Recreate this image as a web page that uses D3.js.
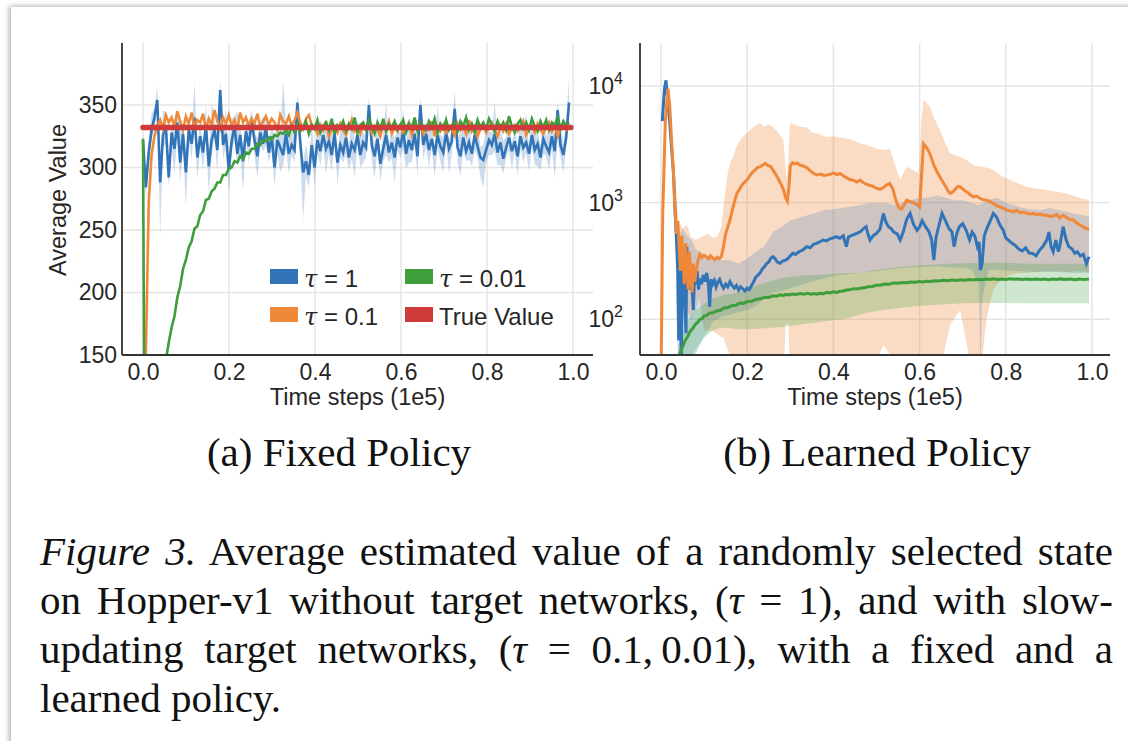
<!DOCTYPE html>
<html>
<head>
<meta charset="utf-8">
<script src="https://cdn.jsdelivr.net/npm/d3@7"></script>
<style>
  html, body { margin: 0; padding: 0; background: #fff; width: 1128px; height: 741px; overflow: hidden; }
  #card { position: absolute; left: 11px; top: 7px; width: 1150px; height: 780px; background: #fff;
          box-shadow: -2px -1px 5px rgba(0,0,0,0.30); }
  svg { position: absolute; left: 0; top: 0; }
  .cap { position: absolute; left: 40px; width: 1073px; font-family: "Liberation Serif", "Times New Roman", serif;
         font-size: 41px; line-height: 49px; color: #111; white-space: nowrap; }
  .just { text-align: justify; text-align-last: justify; }
</style>
</head>
<body>
<div id="card"></div>
<script>
// ---------------- Panel (a): fixed policy ----------------
const xTicks = [0, 0.2, 0.4, 0.6, 0.8, 1.0];
const yTicksA = [150, 200, 250, 300, 350];
const stepA = 0.00665;               // spacing of logged time steps (1e5 units)
const trueValueA = 332;
const trueSpanA = [0, 0.995];

const blueA = [
322,284,312,330,340,354,288,326,333,292,
328,315,336,304,327,296,330,319,340,308,
325,312,334,301,322,330,314,362,318,327,
298,321,333,311,326,305,329,317,337,322,
309,328,319,332,312,325,300,322,316,310,
327,311,318,314,352,320,296,305,294,318,
300,322,313,326,315,321,310,327,304,318,
312,324,308,319,314,326,310,320,316,350,
318,309,323,303,315,326,312,320,308,324,
316,329,311,322,314,327,309,350,318,327,
314,323,310,326,317,312,328,315,321,347,
316,309,324,313,320,311,326,317,308,306,
314,322,318,327,312,320,307,316,324,313,
321,309,325,316,320,311,326,314,319,308,
323,317,312,325,313,346,318,310,324,352];
const blueUpA = [
6,10,8,14,6,12,8,20,10,8, 6,14,9,25,6,18,10,8,28,7,
12,6,16,9,30,8,12,8,10,22, 6,18,8,34,7,12,6,20,9,6,
14,8,22,6,10,7,26,9,12,60, 8,22,10,16,6,12,8,14,10,18,
9,12,24,8,16,6,20,10,8,14, 22,7,10,28,6,12,18,8,10,6,
14,9,20,7,12,26,8,10,16,6, 12,18,8,14,22,9,10,6,16,8,
20,10,7,24,9,12,16,8,10,14, 8,20,9,12,18,6,10,22,8,12,
16,7,10,26,8,12,14,9,20,6, 12,8,18,10,24,7,12,16,9,10,
14,8,20,10,12,6,18,9,14,20];
const blueDownA = [
6,8,12,6,10,8,42,10,14,8, 12,20,8,16,10,28,8,12,6,18,
10,14,8,22,12,6,18,8,12,10, 20,8,12,10,16,24,8,14,6,12,
18,10,6,14,8,12,16,10,20,8, 12,16,8,10,6,14,38,12,10,8,
16,10,12,8,20,10,14,6,18,10, 8,14,10,12,22,8,10,16,8,6,
12,18,8,14,10,16,8,12,20,10, 8,14,12,18,10,8,16,6,12,10,
14,8,18,10,12,16,8,20,10,6, 12,16,10,8,14,10,12,8,16,22,
10,12,8,14,10,18,12,8,10,14, 8,16,10,12,8,14,10,12,18,10,
12,8,14,10,22,24,10,14,8,6];
const orangeA = [
60,150,272,310,325,334,338,331,342,336,
340,333,345,337,330,341,335,344,332,338,
336,343,330,339,334,346,337,331,340,335,
342,334,338,331,344,336,340,333,339,335,
343,332,337,341,334,339,336,330,342,337,
335,341,333,338,344,336,331,339,342,334,
332,327,334,330,337,325,331,333,328,335,
330,326,333,338,329,332,327,334,330,336,
328,333,331,325,335,330,337,327,332,329,
334,328,331,336,326,333,330,335,327,332,
330,337,325,332,329,334,328,333,331,326,
335,330,332,327,338,329,333,325,331,334,
328,332,336,330,325,333,329,335,327,331,
334,329,332,337,326,331,333,328,335,330,
327,332,336,329,333,325,331,334,330,332];
const greenA = [
323,-150,-60,10,55,85,108,128,146,160,
172,181,196,205,219,226,236,241,251,253,
262,265,274,275,281,283,288,288,294,294,
299,300,305,304,309,307,312,311,315,315,
319,318,322,321,324,322,326,325,328,327,
330,326,333,328,335,329,332,337,327,334,
331,338,328,333,336,330,339,327,334,332,
337,329,335,331,340,328,334,336,330,338,
333,327,336,331,339,329,335,332,337,330,
334,338,328,335,331,340,329,336,333,330,
337,332,339,328,335,331,338,330,334,336,
329,337,333,340,330,335,328,338,332,336,
331,339,334,329,337,332,336,330,341,333,
328,335,338,331,336,330,339,333,329,337,
332,338,330,336,334,340,331,337,333,336];

// ---------------- Panel (b): learned policy ([step, value]) ----------------
const yTicksB = [100, 1000, 10000];
const blueB = [
[0.003,5000],[0.008,9500],[0.0116,11200],[0.015,8000],[0.02,5000],[0.025,2800],[0.029,1780],[0.033,800],
[0.036,480],[0.039,250],[0.041,66],[0.043,180],[0.045,330],[0.047,40],[0.05,344],[0.053,248],[0.056,120],
[0.058,76],[0.06,420],[0.063,224],[0.066,180],[0.069,282],[0.072,190],[0.075,120],[0.078,240],[0.081,200],
[0.084,260],[0.087,180],[0.09,224],[0.094,200],[0.098,240],[0.102,210],[0.106,250],[0.11,200],[0.113,128],
[0.116,220],[0.12,200],[0.124,215],[0.128,190],[0.132,210],[0.136,220],[0.14,200],[0.145,185],[0.15,200],
[0.155,190],[0.16,210],[0.165,195],[0.17,185],[0.175,195],[0.18,178],[0.185,190],[0.19,182],[0.195,175],
[0.2,185],[0.205,180],[0.21,195],[0.215,210],[0.22,230],[0.225,240],[0.23,250],[0.235,270],[0.24,282],
[0.245,300],[0.25,310],[0.255,335],[0.26,344],[0.265,330],[0.27,310],[0.276,302],[0.282,315],[0.288,320],
[0.294,330],[0.3,350],[0.306,368],[0.312,360],[0.318,375],[0.324,385],[0.33,395],[0.338,420],[0.346,410],
[0.354,440],[0.361,448],[0.368,460],[0.376,478],[0.384,470],[0.392,490],[0.4,500],[0.407,511],[0.415,495],
[0.423,520],[0.43,420],[0.435,510],[0.446,530],[0.454,546],[0.462,560],[0.47,600],[0.476,622],[0.48,540],
[0.485,478],[0.492,520],[0.5,546],[0.508,590],[0.516,808],[0.522,680],[0.528,620],[0.534,600],[0.54,560],
[0.548,540],[0.555,478],[0.562,560],[0.57,720],[0.578,808],[0.586,650],[0.594,580],[0.6,620],[0.606,700],
[0.614,620],[0.622,560],[0.628,480],[0.633,322],[0.638,500],[0.645,640],[0.652,808],[0.66,700],[0.668,600],
[0.675,560],[0.68,420],[0.686,540],[0.692,620],[0.7,660],[0.708,580],[0.716,480],[0.722,560],[0.728,520],
[0.734,420],[0.738,460],[0.741,264],[0.745,300],[0.75,520],[0.756,600],[0.764,700],[0.771,808],[0.778,760],
[0.786,650],[0.794,580],[0.8,500],[0.806,478],[0.814,450],[0.822,430],[0.83,400],[0.838,385],[0.846,410],
[0.854,370],[0.862,368],[0.87,350],[0.878,390],[0.886,420],[0.895,478],[0.9,560],[0.905,420],[0.91,380],
[0.916,478],[0.922,380],[0.926,440],[0.933,622],[0.94,480],[0.946,420],[0.954,400],[0.96,368],[0.966,380],
[0.973,350],[0.98,360],[0.987,300],[0.993,344]];
const orangeB = [
[0.0,30],[0.004,800],[0.01,5000],[0.016,9500],[0.02,7000],[0.025,3200],[0.029,1780],[0.033,800],[0.036,540],
[0.039,700],[0.042,420],[0.045,260],[0.048,520],[0.051,330],[0.054,200],[0.057,450],[0.06,280],[0.063,180],
[0.066,380],[0.069,240],[0.072,170],[0.075,300],[0.078,210],[0.082,270],[0.086,320],[0.09,360],[0.095,340],
[0.1,355],[0.105,345],[0.11,330],[0.115,350],[0.12,335],[0.125,325],[0.13,340],[0.135,330],[0.14,345],
[0.145,420],[0.15,540],[0.155,620],[0.16,710],[0.165,850],[0.17,1000],[0.176,1200],[0.182,1300],[0.188,1420],
[0.194,1500],[0.2,1570],[0.206,1700],[0.212,1820],[0.218,1900],[0.224,2000],[0.23,2030],[0.236,2100],
[0.242,2170],[0.248,2080],[0.254,2050],[0.26,1900],[0.266,1750],[0.272,1600],[0.278,1450],[0.284,1300],
[0.289,1100],[0.293,1030],[0.297,1400],[0.3,2050],[0.305,2200],[0.31,2150],[0.316,2180],[0.322,2100],
[0.33,2060],[0.338,2000],[0.346,1880],[0.354,1780],[0.362,1730],[0.37,1760],[0.378,1710],[0.386,1730],
[0.394,1760],[0.4,1800],[0.408,1740],[0.415,1780],[0.423,1700],[0.43,1640],[0.438,1580],[0.446,1560],
[0.454,1500],[0.462,1560],[0.47,1480],[0.478,1430],[0.485,1410],[0.492,1380],[0.5,1330],[0.508,1300],
[0.516,1350],[0.524,1420],[0.531,1460],[0.538,1300],[0.545,1050],[0.552,900],[0.558,880],[0.564,960],
[0.57,1050],[0.578,1020],[0.586,1000],[0.594,960],[0.6,920],[0.604,1600],[0.609,3200],[0.614,3050],
[0.62,2820],[0.626,2500],[0.633,2100],[0.64,1850],[0.647,1670],[0.654,1500],[0.66,1380],[0.666,1260],
[0.671,1200],[0.677,1230],[0.683,1310],[0.689,1380],[0.694,1370],[0.7,1310],[0.706,1260],[0.712,1220],
[0.718,1160],[0.725,1120],[0.732,1140],[0.74,1090],[0.748,1060],[0.756,1050],[0.764,1020],[0.772,980],
[0.78,940],[0.787,920],[0.795,890],[0.803,860],[0.81,850],[0.817,835],[0.825,860],[0.833,820],[0.841,830],
[0.849,810],[0.857,800],[0.864,808],[0.872,790],[0.88,800],[0.888,780],[0.895,780],[0.903,760],[0.911,770],
[0.918,790],[0.925,740],[0.933,780],[0.94,750],[0.947,720],[0.957,710],[0.965,670],[0.973,640],[0.98,620],
[0.987,600],[0.993,590]];
const greenB = [
[0.04,40],[0.044,51],[0.05,58],[0.056,66],[0.062,71],[0.067,78],[0.073,83],[0.08,91],[0.085,94],[0.09,100],
[0.095,101],[0.1,107],[0.106,108],[0.113,113],[0.12,113],[0.128,118],[0.137,119],[0.146,125],[0.155,126],
[0.164,131],[0.173,132],[0.183,138],[0.192,137],[0.2,142],[0.21,143],[0.22,148],[0.23,150],[0.24,154],
[0.25,154],[0.26,159],[0.268,158],[0.276,162],[0.283,160],[0.29,163],[0.298,162],[0.305,165],[0.314,163],
[0.323,166],[0.332,164],[0.34,167],[0.348,164],[0.355,166],[0.362,164],[0.369,167],[0.377,166],[0.385,170],
[0.392,168],[0.4,172],[0.408,170],[0.415,174],[0.423,175],[0.43,178],[0.438,179],[0.446,183],[0.454,182],
[0.462,185],[0.471,186],[0.48,190],[0.49,191],[0.5,196],[0.51,197],[0.52,201],[0.53,200],[0.539,205],
[0.55,204],[0.56,207],[0.57,206],[0.58,209],[0.59,208],[0.6,211],[0.608,209],[0.616,212],[0.625,211],
[0.635,214],[0.645,213],[0.655,216],[0.665,214],[0.675,217],[0.685,215],[0.694,218],[0.705,216],[0.715,219],
[0.725,217],[0.735,220],[0.745,218],[0.755,221],[0.763,219],[0.771,222],[0.78,219],[0.79,221],[0.8,219],
[0.81,223],[0.82,220],[0.83,222],[0.84,219],[0.848,221],[0.858,219],[0.87,222],[0.88,219],[0.89,221],
[0.9,218],[0.91,221],[0.918,219],[0.926,222],[0.936,219],[0.95,221],[0.96,218],[0.97,221],[0.98,219],
[0.993,221]];
// shaded spread: [step, low, high]
const orangeBandB = [
[0.03,1200,2400],[0.04,150,700],[0.05,150,600],[0.06,120,650],[0.07,100,500],[0.08,120,480],[0.09,150,500],
[0.1,80,520],[0.11,80,540],[0.12,80,500],[0.13,75,510],[0.14,70,620],[0.145,70,920],[0.15,60,1300],
[0.155,55,1800],[0.16,48,2200],[0.168,30,2480],[0.175,30,3000],[0.185,30,3500],[0.199,30,3930],[0.21,30,4300],
[0.22,30,4600],[0.23,30,4790],[0.24,30,4500],[0.25,30,4700],[0.261,30,4400],[0.272,30,4000],[0.284,30,3440],
[0.289,92,2000],[0.292,92,1560],[0.296,92,2500],[0.299,30,4790],[0.31,30,4700],[0.32,30,4500],[0.338,30,4400],
[0.35,30,4000],[0.365,30,3900],[0.384,30,3660],[0.4,30,3700],[0.42,30,3600],[0.44,30,3500],[0.462,30,3220],
[0.48,30,3100],[0.5,45,2900],[0.516,60,2825],[0.531,50,2900],[0.545,30,2000],[0.555,30,1560],[0.57,30,2033],
[0.585,30,1900],[0.598,30,1780],[0.604,30,5000],[0.609,30,7580],[0.624,30,6660],[0.635,30,5200],
[0.647,30,4190],[0.66,60,3200],[0.671,90,2640],[0.694,120,2480],[0.71,60,2300],[0.725,30,2100],[0.74,30,2033],
[0.755,100,2000],[0.771,180,1900],[0.79,220,1700],[0.81,240,1560],[0.83,250,1450],[0.848,250,1370],
[0.87,255,1320],[0.895,260,1283],[0.92,258,1240],[0.941,255,1200],[0.965,260,1120],[0.993,255,1053]];
const blueBandB = [
[0.035,200,800],[0.04,30,500],[0.05,30,600],[0.06,40,520],[0.07,45,480],[0.08,50,400],[0.09,60,380],
[0.1,70,360],[0.11,80,340],[0.12,95,330],[0.14,105,320],[0.16,110,320],[0.18,115,300],[0.2,120,330],
[0.22,130,380],[0.24,150,420],[0.26,170,560],[0.28,175,620],[0.3,185,700],[0.32,195,740],[0.34,205,780],
[0.36,215,820],[0.38,225,865],[0.4,235,880],[0.42,240,900],[0.44,245,920],[0.46,250,950],[0.48,255,986],
[0.5,260,1000],[0.52,265,1000],[0.54,270,950],[0.56,275,1000],[0.58,280,1050],[0.6,280,1100],[0.62,282,1100],
[0.64,285,1150],[0.66,280,1100],[0.68,278,1050],[0.7,275,1050],[0.72,270,1000],[0.738,200,950],[0.741,30,980],
[0.745,150,980],[0.76,265,1050],[0.78,265,1100],[0.8,262,1000],[0.82,260,950],[0.84,258,900],[0.86,255,880],
[0.88,255,860],[0.9,255,900],[0.92,255,870],[0.94,252,840],[0.96,250,800],[0.98,250,780],[0.993,250,760]];
const greenBandB = [
[0.04,30,60],[0.06,40,95],[0.08,55,120],[0.1,70,135],[0.12,80,150],[0.14,85,160],[0.16,84,165],[0.18,82,170],
[0.2,82,180],[0.22,83,195],[0.24,84,205],[0.26,85,215],[0.28,86,225],[0.3,88,230],[0.32,90,235],[0.34,92,238],
[0.36,94,240],[0.38,96,242],[0.4,98,245],[0.42,100,248],[0.44,104,250],[0.46,110,250],[0.5,118,265],
[0.55,125,280],[0.6,130,290],[0.65,134,298],[0.7,137,302],[0.75,138,305],[0.8,138,305],[0.85,137,300],
[0.9,137,300],[0.95,137,300],[0.993,137,298]];

const legendItems = [
  { sym: "\u03C4", rest: " = 1", color: "#3274b8" },
  { sym: "\u03C4", rest: " = 0.1", color: "#f0883a" },
  { sym: "\u03C4", rest: " = 0.01", color: "#3d9e3b" },
  { sym: "", rest: "True Value", color: "#cf3a3a" }
];

// ---------------- drawing ----------------
const C = { blue: "#3274b8", orange: "#f0883a", green: "#3d9e3b", red: "#cf3a3a" };
const sans = "'Liberation Sans', Arial, Helvetica, sans-serif";
const serif = "'Liberation Serif', 'Times New Roman', serif";
const svg = d3.select("body").append("svg").attr("width", 1128).attr("height", 741);

function frame(g, box, x, y, yTicks, id) {
  // grid
  g.append("g").selectAll("line").data(xTicks).join("line")
    .attr("x1", d => x(d)).attr("x2", d => x(d)).attr("y1", box.top).attr("y2", box.bottom)
    .attr("stroke", "#e4e4e4").attr("stroke-width", 1.4);
  g.append("g").selectAll("line").data(yTicks).join("line")
    .attr("x1", box.left).attr("x2", box.right).attr("y1", d => y(d)).attr("y2", d => y(d))
    .attr("stroke", "#e4e4e4").attr("stroke-width", 1.4);
  svg.append("clipPath").attr("id", id).append("rect")
    .attr("x", box.left).attr("y", box.top).attr("width", box.right - box.left).attr("height", box.bottom - box.top);
}
function axes(g, box, x) {
  g.append("line").attr("x1", box.left).attr("x2", box.left).attr("y1", box.top).attr("y2", box.bottom)
    .attr("stroke", "#333").attr("stroke-width", 1.8);
  g.append("line").attr("x1", box.left).attr("x2", box.right).attr("y1", box.bottom).attr("y2", box.bottom)
    .attr("stroke", "#333").attr("stroke-width", 1.8);
  const xa = g.append("g").attr("transform", `translate(0,${box.bottom})`)
    .call(d3.axisBottom(x).tickValues(xTicks).tickFormat(d3.format(".1f")).tickSize(0).tickPadding(9));
  xa.select(".domain").remove();
  xa.selectAll("text").attr("font-family", sans).attr("font-size", 23).attr("fill", "#262626");
  g.append("text").attr("x", (box.left + box.right) / 2).attr("y", 405).attr("text-anchor", "middle")
    .attr("font-family", sans).attr("font-size", 23.5).attr("fill", "#262626").text("Time steps (1e5)");
}

// ---- Panel (a)
const boxA = { left: 122, right: 593, top: 43, bottom: 355 };
const xA = d3.scaleLinear().domain([0, 1]).range([143, 573]);
const yA = d3.scaleLinear().domain([150, 350]).range([355, 105]);
const gA = svg.append("g");
frame(gA, boxA, xA, yA, yTicksA, "clipA");
const plotA = gA.append("g").attr("clip-path", "url(#clipA)");
const lineA = d3.line().x((d, i) => xA(i * stepA)).y(d => yA(d));
plotA.append("path").datum(blueA)
  .attr("d", d3.area().x((d, i) => xA(i * stepA)).y0((d, i) => yA(d - blueDownA[i])).y1((d, i) => yA(d + blueUpA[i])))
  .attr("fill", C.blue).attr("opacity", 0.25);
plotA.append("path").datum(blueA).attr("d", lineA).attr("fill", "none").attr("stroke", C.blue).attr("stroke-width", 2.6);
plotA.append("path").datum(orangeA).attr("d", lineA).attr("fill", "none").attr("stroke", C.orange).attr("stroke-width", 2.6);
plotA.append("path").datum(greenA).attr("d", lineA).attr("fill", "none").attr("stroke", C.green).attr("stroke-width", 2.6);
plotA.append("line").attr("x1", xA(trueSpanA[0])).attr("x2", xA(trueSpanA[1]))
  .attr("y1", yA(trueValueA)).attr("y2", yA(trueValueA)).attr("stroke", C.red).attr("stroke-width", 5.5)
  .attr("stroke-linecap", "round");
axes(gA, boxA, xA);
const yaA = gA.append("g").attr("transform", `translate(${boxA.left},0)`)
  .call(d3.axisLeft(yA).tickValues(yTicksA).tickSize(0).tickPadding(5));
yaA.select(".domain").remove();
yaA.selectAll("text").attr("font-family", sans).attr("font-size", 23).attr("fill", "#262626");
gA.append("text").attr("transform", "translate(66,200) rotate(-90)").attr("text-anchor", "middle")
  .attr("font-family", sans).attr("font-size", 23.5).attr("fill", "#262626").text("Average Value");

// legend (2 x 2, column-major)
const leg = gA.append("g");
legendItems.forEach((it, i) => {
  const col = Math.floor(i / 2), row = i % 2;
  const lx = 270 + col * 135, ly = 269 + row * 38;
  leg.append("rect").attr("x", lx).attr("y", ly).attr("width", 28).attr("height", 15).attr("fill", it.color);
  const t = leg.append("text").attr("x", lx + 34).attr("y", ly + 18).attr("font-family", sans)
    .attr("font-size", 24).attr("fill", "#262626");
  if (it.sym) t.append("tspan").attr("font-family", "'DejaVu Serif', serif").attr("font-style", "italic").text(it.sym);
  t.append("tspan").text(it.rest);
});

// ---- Panel (b)
const boxB = { left: 640, right: 1110, top: 43, bottom: 355 };
const xB = d3.scaleLinear().domain([0, 1]).range([661, 1092]);
const yB = d3.scaleLog().domain([100, 10000]).range([319.3, 86]);
const gB = svg.append("g");
frame(gB, boxB, xB, yB, yTicksB, "clipB");
const plotB = gB.append("g").attr("clip-path", "url(#clipB)");
const bandB = d3.area().x(d => xB(d[0])).y0(d => yB(d[1])).y1(d => yB(d[2]));
const lineB = d3.line().x(d => xB(d[0])).y(d => yB(d[1]));
plotB.append("path").datum(orangeBandB).attr("d", bandB).attr("fill", C.orange).attr("opacity", 0.3);
plotB.append("path").datum(blueBandB).attr("d", bandB).attr("fill", C.blue).attr("opacity", 0.22);
plotB.append("path").datum(greenBandB).attr("d", bandB).attr("fill", C.green).attr("opacity", 0.25);
plotB.append("path").datum(blueB).attr("d", lineB).attr("fill", "none").attr("stroke", C.blue).attr("stroke-width", 3);
plotB.append("path").datum(orangeB).attr("d", lineB).attr("fill", "none").attr("stroke", C.orange).attr("stroke-width", 3);
plotB.append("path").datum(greenB).attr("d", lineB).attr("fill", "none").attr("stroke", C.green).attr("stroke-width", 3);
axes(gB, boxB, xB);
const yaB = gB.append("g").attr("transform", `translate(${boxB.left},0)`)
  .call(d3.axisLeft(yB).tickValues(yTicksB).tickSize(0).tickPadding(17).tickFormat(() => ""));
yaB.select(".domain").remove();
yaB.selectAll("text").each(function (d) {
  const t = d3.select(this).attr("font-family", sans).attr("font-size", 23).attr("fill", "#262626");
  t.append("tspan").text("10");
  t.append("tspan").attr("font-size", 16).attr("dy", -10).text(Math.round(Math.log10(d)));
});

// ---- sub-captions
svg.append("text").attr("x", 339).attr("y", 466).attr("text-anchor", "middle").attr("font-family", serif)
  .attr("font-size", 41).attr("fill", "#111").text("(a) Fixed Policy");
svg.append("text").attr("x", 877).attr("y", 466).attr("text-anchor", "middle").attr("font-family", serif)
  .attr("font-size", 41).attr("fill", "#111").text("(b) Learned Policy");

// ---- figure caption
const capLines = [
  { html: "<i>Figure 3.</i> Average estimated value of a randomly selected state", just: true },
  { html: "on Hopper-v1 without target networks, (<i>\u03C4</i> = 1), and with slow-", just: true },
  { html: "updating target networks, (<i>\u03C4</i> = 0.1,&#8201;0.01), with a fixed and a", just: true },
  { html: "learned policy.", just: false }
];
capLines.forEach((l, i) => {
  d3.select("body").append("div").attr("class", "cap" + (l.just ? " just" : ""))
    .style("top", (527 + i * 49) + "px").html(l.html);
});
</script>
</body>
</html>
